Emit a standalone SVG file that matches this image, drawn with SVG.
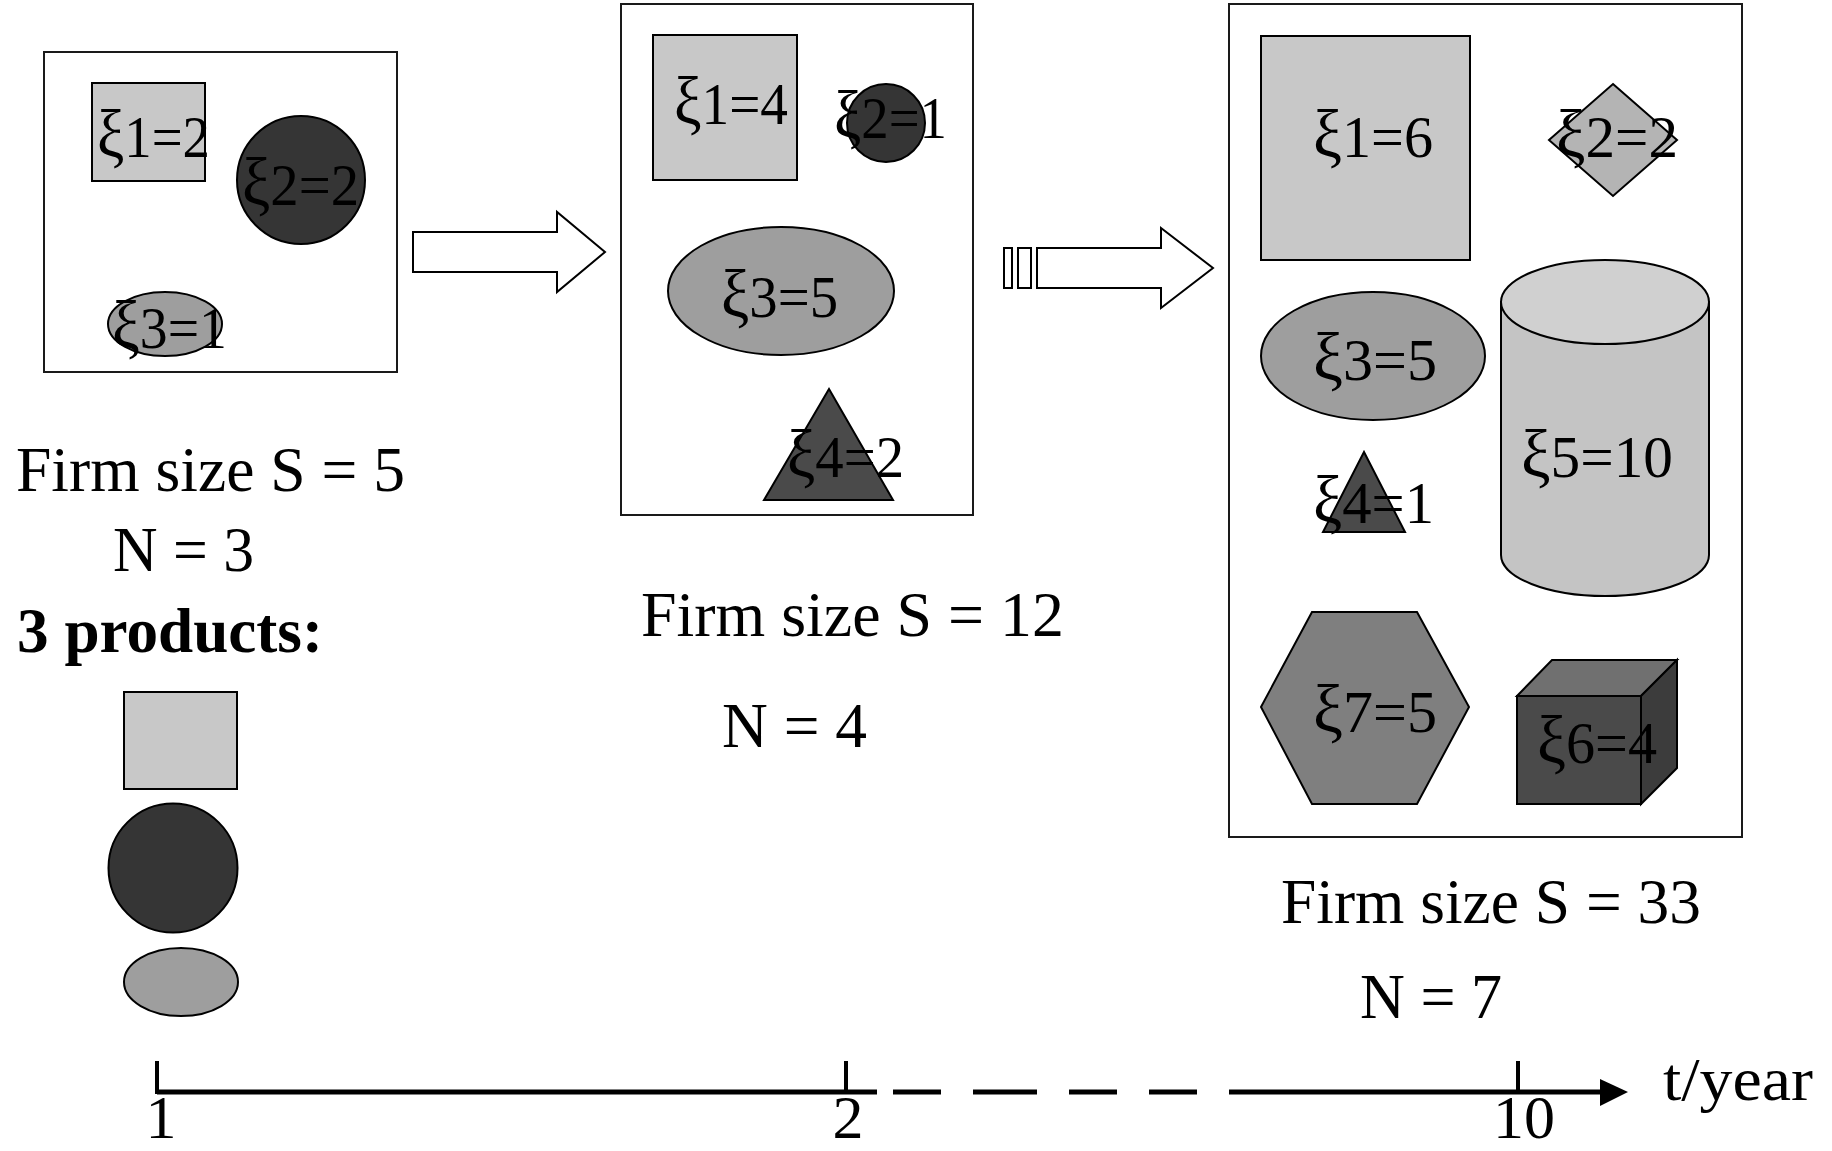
<svg xmlns="http://www.w3.org/2000/svg" width="1832" height="1151" viewBox="0 0 1832 1151">
<style>
.box{fill:#fff;stroke:#1a1a1a;stroke-width:2}
.shp{stroke:#000;stroke-width:2}
.lbl{font-family:"Liberation Serif","Times New Roman",serif;font-size:60px;fill:#000}
.x{font-size:1.12em}
.big{font-family:"Liberation Serif","Times New Roman",serif;font-size:64px;fill:#000}
.ax{font-family:"Liberation Serif","Times New Roman",serif;font-size:62px;fill:#000}
.light{fill:#c8c8c8}
.dark{fill:#353535}
.mid{fill:#9e9e9e}
.tri{fill:#4a4a4a}
.arr{fill:#fff;stroke:#000;stroke-width:2}
.tl{stroke:#000;stroke-width:5;fill:none}
.tick{stroke:#000;stroke-width:4}
</style>
<rect width="1832" height="1151" fill="#fff"/>

<g id="firm-t1">
<rect class="box" x="44" y="52" width="353" height="320"/>
<g id="t1-p1"><rect class="shp light" x="92" y="83" width="113" height="98"/>
<text class="lbl" x="97" y="157" font-size="56" textLength="113" lengthAdjust="spacingAndGlyphs"><tspan class="x">ξ</tspan>1=2</text></g>
<g id="t1-p2"><circle class="shp dark" cx="301" cy="180" r="64"/>
<text class="lbl" x="242" y="205" textLength="117" lengthAdjust="spacingAndGlyphs"><tspan class="x">ξ</tspan>2=2</text></g>
<g id="t1-p3"><ellipse class="shp mid" cx="165" cy="324" rx="57" ry="32"/>
<text class="lbl" x="112" y="348" textLength="115" lengthAdjust="spacingAndGlyphs"><tspan class="x">ξ</tspan>3=1</text></g>
</g>

<g id="firm-t2">
<rect class="box" x="621" y="4" width="352" height="511"/>
<g id="t2-p1"><rect class="shp light" x="653" y="35" width="144" height="145"/>
<text class="lbl" x="674" y="124" textLength="114" lengthAdjust="spacingAndGlyphs"><tspan class="x">ξ</tspan>1=4</text></g>
<g id="t2-p2"><circle class="shp dark" cx="886" cy="123" r="39"/>
<text class="lbl" x="834" y="138" textLength="113" lengthAdjust="spacingAndGlyphs"><tspan class="x">ξ</tspan>2=1</text></g>
<g id="t2-p3"><ellipse class="shp mid" cx="781" cy="291" rx="113" ry="64"/>
<text class="lbl" x="721" y="317" textLength="117" lengthAdjust="spacingAndGlyphs"><tspan class="x">ξ</tspan>3=5</text></g>
<g id="t2-p4"><polygon class="shp tri" points="829,389 764,500 893,500"/>
<text class="lbl" x="787" y="477" textLength="117" lengthAdjust="spacingAndGlyphs"><tspan class="x">ξ</tspan>4=2</text></g>
</g>

<g id="firm-t10">
<rect class="box" x="1229" y="4" width="513" height="833"/>
<g id="t10-p1"><rect class="shp light" x="1261" y="36" width="209" height="224"/>
<text class="lbl" x="1313" y="157" textLength="120" lengthAdjust="spacingAndGlyphs"><tspan class="x">ξ</tspan>1=6</text></g>
<g id="t10-p2"><polygon class="shp" fill="#b4b4b4" points="1613,84 1677,140 1613,196 1549,140"/>
<text class="lbl" x="1556" y="157" textLength="122" lengthAdjust="spacingAndGlyphs"><tspan class="x">ξ</tspan>2=2</text></g>
<g id="t10-p3"><ellipse class="shp mid" cx="1373" cy="356" rx="112" ry="64"/>
<text class="lbl" x="1313" y="380" textLength="124" lengthAdjust="spacingAndGlyphs"><tspan class="x">ξ</tspan>3=5</text></g>
<g id="t10-p5"><path class="shp" fill="#c4c4c4" d="M1501,302 L1501,555 A104,41 0 0 0 1709,555 L1709,302 Z"/>
<ellipse class="shp" fill="#d0d0d0" cx="1605" cy="302" rx="104" ry="42"/>
<text class="lbl" x="1521" y="477" textLength="152" lengthAdjust="spacingAndGlyphs"><tspan class="x">ξ</tspan>5=10</text></g>
<g id="t10-p4"><polygon class="shp tri" points="1364,452 1323,532 1405,532"/>
<text class="lbl" x="1313" y="523" textLength="121" lengthAdjust="spacingAndGlyphs"><tspan class="x">ξ</tspan>4=1</text></g>
<g id="t10-p7"><polygon class="shp" fill="#7f7f7f" points="1261,707 1312,612 1417,612 1469,707 1417,804 1312,804"/>
<text class="lbl" x="1313" y="732" textLength="124" lengthAdjust="spacingAndGlyphs"><tspan class="x">ξ</tspan>7=5</text></g>
<g id="t10-p6"><rect class="shp" fill="#4a4a4a" x="1517" y="696" width="124" height="108"/>
<polygon class="shp" fill="#707070" points="1517,696 1552,660 1677,660 1641,696"/>
<polygon class="shp" fill="#3c3c3c" points="1641,696 1677,660 1677,768 1641,804"/>
<text class="lbl" x="1537" y="763" textLength="120" lengthAdjust="spacingAndGlyphs"><tspan class="x">ξ</tspan>6=4</text></g>
</g>

<g id="info-t1">
<text class="big" x="16" y="491" textLength="389" lengthAdjust="spacingAndGlyphs">Firm size S = 5</text>
<text class="big" x="113" y="571" textLength="141" lengthAdjust="spacingAndGlyphs">N = 3</text>
<text class="big" x="17" y="652" font-weight="bold" textLength="306" lengthAdjust="spacingAndGlyphs">3 products:</text>
</g>
<g id="legend">
<rect class="shp light" x="124" y="692" width="113" height="97"/>
<circle class="shp dark" cx="173" cy="868" r="64.5"/>
<ellipse class="shp mid" cx="181" cy="982" rx="57" ry="34"/>
</g>
<g id="info-t2">
<text class="big" x="641" y="636" textLength="423" lengthAdjust="spacingAndGlyphs">Firm size S = 12</text>
<text class="big" x="722" y="747" textLength="145" lengthAdjust="spacingAndGlyphs">N = 4</text>
</g>
<g id="info-t10">
<text class="big" x="1281" y="923" textLength="420" lengthAdjust="spacingAndGlyphs">Firm size S = 33</text>
<text class="big" x="1360" y="1018" textLength="142" lengthAdjust="spacingAndGlyphs">N = 7</text>
</g>

<g id="connectors">
<polygon class="arr" points="413,232 557,232 557,212 605,252 557,292 557,272 413,272"/>
<rect class="arr" x="1004" y="248" width="8" height="40"/>
<rect class="arr" x="1018" y="248" width="13" height="40"/>
<polygon class="arr" points="1037,248 1161,248 1161,228 1213,268 1161,308 1161,288 1037,288"/>
</g>

<g id="timeline">
<line class="tl" x1="157" y1="1092" x2="877" y2="1092"/>
<line class="tl" x1="893" y1="1092" x2="941" y2="1092"/>
<line class="tl" x1="973" y1="1092" x2="1037" y2="1092"/>
<line class="tl" x1="1069" y1="1092" x2="1117" y2="1092"/>
<line class="tl" x1="1149" y1="1092" x2="1197" y2="1092"/>
<line class="tl" x1="1229" y1="1092" x2="1602" y2="1092"/>
<polygon points="1600,1079 1628,1092 1600,1106" fill="#000"/>
<line class="tick" x1="157" y1="1061" x2="157" y2="1094"/>
<line class="tick" x1="846" y1="1061" x2="846" y2="1092"/>
<line class="tick" x1="1518" y1="1061" x2="1518" y2="1092"/>
<text class="ax" x="161" y="1138" font-size="60" text-anchor="middle">1</text>
<text class="ax" x="848" y="1138" font-size="60" text-anchor="middle">2</text>
<text class="ax" x="1524" y="1138" font-size="60" text-anchor="middle">10</text>
<text class="ax" x="1663" y="1100" textLength="150" lengthAdjust="spacingAndGlyphs">t/year</text>
</g>
</svg>
